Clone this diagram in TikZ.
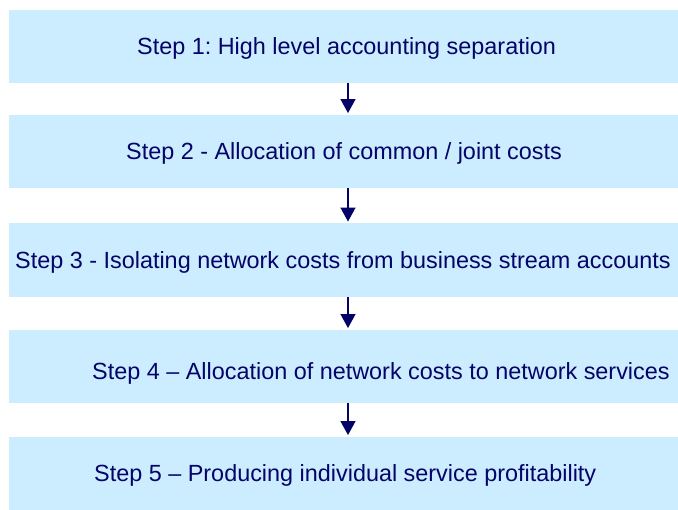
\documentclass[tikz,border=0pt]{standalone}
\usepackage{fontspec}
\setmainfont{Liberation Sans}
\usetikzlibrary{arrows.meta}
\definecolor{boxfill}{RGB}{204,236,255}
\definecolor{navy}{RGB}{4,4,104}
\frenchspacing
\begin{document}
\begin{tikzpicture}[x=1pt,y=-1pt,
  stepbox/.style={draw=none,fill=boxfill,rectangle,inner sep=0pt,minimum width=669pt,minimum height=73.5pt},
  steptext/.style={anchor=base west,inner sep=0pt,text=navy,font=\fontsize{23.4}{28}\selectfont},
  flow/.style={draw=navy,line width=1.4pt,-{Triangle[width=15pt,length=14pt]},shorten >=1.5pt}]
\useasboundingbox (0,0) rectangle (678,510);
\node[stepbox] (b1) at (343.5,46.5) {};
\node[stepbox] (b2) at (343.5,151.5) {};
\node[stepbox] (b3) at (343.5,260) {};
\node[stepbox] (b4) at (343.5,366.5) {};
\node[stepbox] (b5) at (343.5,473.5) {};
\node[steptext] (t1) at (137,54.5) {Step 1: High level accounting separation};
\node[steptext] (t2) at (126,160) {Step 2 - Allocation of common / joint costs};
\node[steptext] (t3) at (15,268.5) {Step 3 - Isolating network costs from business stream accounts};
\node[steptext] (t4) at (92,380) {Step 4 – Allocation of network costs to network services};
\node[steptext] (t5) at (94,482) {Step 5 – Producing individual service profitability};
\draw[flow] ([xshift=4.5pt]b1.south) -- ([xshift=4.5pt]b2.north);
\draw[flow] ([xshift=4.5pt]b2.south) -- ([xshift=4.5pt]b3.north);
\draw[flow] ([xshift=4.5pt]b3.south) -- ([xshift=4.5pt]b4.north);
\draw[flow] ([xshift=4.5pt]b4.south) -- ([xshift=4.5pt]b5.north);
\end{tikzpicture}
\end{document}
